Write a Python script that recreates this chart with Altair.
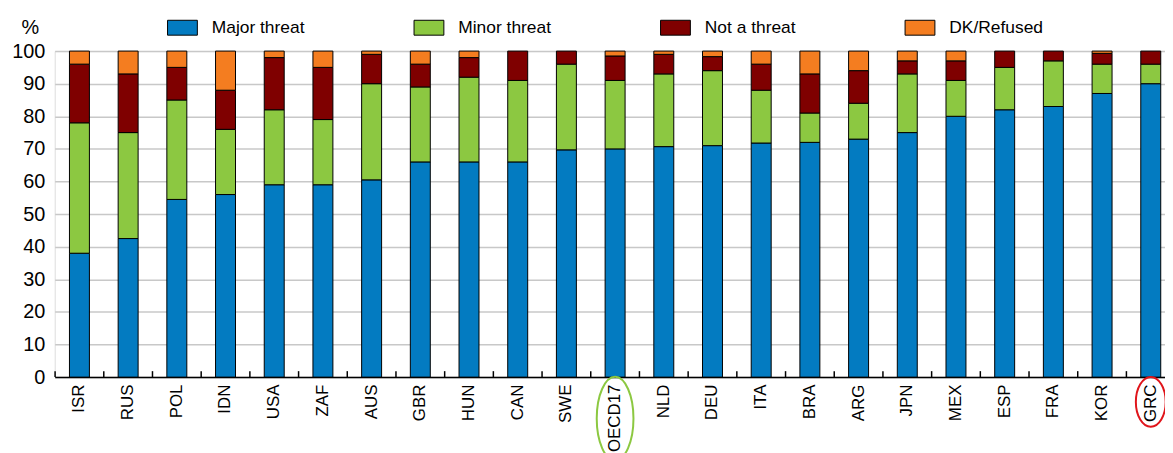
import altair as alt
import pandas as pd

countries = ["ISR", "RUS", "POL", "IDN", "USA", "ZAF", "AUS", "GBR", "HUN", "CAN", "SWE",
             "OECD17", "NLD", "DEU", "ITA", "BRA", "ARG", "JPN", "MEX", "ESP", "FRA", "KOR", "GRC"]
major = [38, 42.5, 54.5, 56, 59, 59, 60.5, 66, 66, 66, 69.7, 70, 70.7, 71, 71.8, 72, 73, 75, 80, 82, 83, 87, 90]
minor = [40, 32.5, 30.5, 20, 23, 20, 29.5, 23, 26, 25, 26.3, 21, 22.3, 23, 16.2, 9, 11, 18, 11, 13, 14, 9, 6]
not_threat = [18, 18, 10, 12, 16, 16, 9, 7, 6, 9, 4, 7.5, 6, 4.3, 8, 12, 10, 4, 6, 5, 3, 3.3, 4]
dk_refused = [4, 7, 5, 12, 2, 5, 1, 4, 2, 0, 0, 1.5, 1, 1.7, 4, 7, 6, 3, 3, 0, 0, 0.7, 0]

series = ["Major threat", "Minor threat", "Not a threat", "DK/Refused"]
colors = ["#037BC1", "#8CC841", "#7F0000", "#F47D20"]

# annotation ellipses around two labels (y in data units, below the axis)
annot_country = ["OECD17", "GRC"]
annot_y = [-12.7, -7.6]

rows = []
for i, c in enumerate(countries):
    for k, vals in enumerate([major, minor, not_threat, dk_refused]):
        if vals[i] > 0:
            rows.append({"country": c, "series": series[k], "value": vals[i], "order": k})
df = pd.DataFrame(rows)
ann = pd.DataFrame({"country": annot_country, "y": annot_y})
ticks_df = pd.DataFrame({"country": countries})

FONT = "Liberation Sans"

W = 1117
PI = 0.59
PO = 0.195
STEP = W / (len(countries) - PI + 2 * PO)
xscale = alt.Scale(paddingInner=PI, paddingOuter=PO, align=0.776)
yscale = alt.Scale(domain=[0, 100], nice=False)

xaxis = alt.Axis(title=None, labelAngle=270, labelFontSize=17, labelColor="black",
                 labelPadding=7, ticks=False, domainColor="black", domainWidth=1.5,
                 labelFont=FONT, grid=False, labelOverlap=False)
yaxis = alt.Axis(title="%", titleAngle=0, titleX=-25, titleY=-14, titleAlign="center",
                 titleBaseline="bottom", titleFontWeight="normal", titleFontSize=20,
                 titleColor="black", titleFont=FONT,
                 values=list(range(0, 101, 10)), labelFontSize=20, labelColor="black",
                 labelPadding=10, labelFont=FONT, ticks=False, domain=False,
                 labelOverlap=False,
                 grid=True, gridColor="#c8c8c8", gridWidth=1.5)

bars = alt.Chart(df).mark_bar(stroke="black", strokeWidth=1).encode(
    x=alt.X("country:N", sort=countries, scale=xscale, axis=xaxis),
    y=alt.Y("value:Q", stack="zero", scale=yscale, axis=yaxis),
    color=alt.Color("series:N", sort=series,
                    scale=alt.Scale(domain=series, range=colors),
                    legend=alt.Legend(title=None, orient="none", legendX=113, legendY=-39,
                                      direction="horizontal", columns=4, columnPadding=107,
                                      symbolType="M-1,-0.5H1V0.5H-1Z", symbolSize=900,
                                      symbolStrokeColor="black", symbolStrokeWidth=1,
                                      labelFontSize=17.5, labelOffset=14, labelColor="black",
                                      labelFont=FONT, padding=0)),
    order=alt.Order("order:Q"),
)

# small upward ticks at the category boundaries
tick_rules = alt.Chart(ticks_df).mark_rule(
    color="black", strokeWidth=1.5, xOffset=-(PI / 2) * STEP
).encode(
    x=alt.X("country:N", sort=countries, bandPosition=0, scale=xscale, axis=xaxis),
    y=alt.value(328),
    y2=alt.value(322),
)

green_path = "M0,-1A0.44,1 0 1,1 0,1A0.44,1 0 1,1 0,-1Z"
red_path = "M0,-1A0.6,1 0 1,1 0,1A0.6,1 0 1,1 0,-1Z"

ell_green = alt.Chart(ann).transform_filter(alt.datum.country == "OECD17").mark_point(
    shape=green_path, size=7056, filled=False, stroke="#8CC841", strokeWidth=2, opacity=1
).encode(
    x=alt.X("country:N", sort=countries, scale=xscale, axis=xaxis),
    y=alt.Y("y:Q", scale=yscale, axis=yaxis),
)
ell_red = alt.Chart(ann).transform_filter(alt.datum.country == "GRC").mark_point(
    shape=red_path, size=2500, filled=False, stroke="#E0151B", strokeWidth=2, opacity=1
).encode(
    x=alt.X("country:N", sort=countries, scale=xscale, axis=xaxis),
    y=alt.Y("y:Q", scale=yscale, axis=yaxis),
)

chart = alt.layer(bars, tick_rules, ell_green, ell_red).properties(
    width=W, height=328,
    autosize=alt.AutoSizeParams(type="none"),
    padding={"left": 47, "top": 42, "right": 0, "bottom": 75},
).configure_view(stroke=None).configure(font=FONT)

chart.save("out.html", embed_options={"renderer": "svg", "actions": False})
